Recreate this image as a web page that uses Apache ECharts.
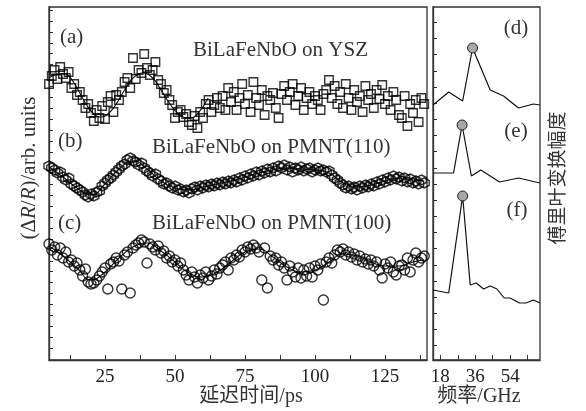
<!DOCTYPE html>
<html>
<head>
<meta charset="utf-8">
<script src="https://cdn.jsdelivr.net/npm/echarts@6/dist/echarts.min.js"></script>
<style>
  html, body { margin: 0; padding: 0; background: #fff; }
  #main { width: 586px; height: 411px; }
</style>
</head>
<body>
<div id="main"></div>
<script>
// 延迟时间 (ps)
var delayPs = [5,6,7,8,9,10,11,12,13,14,15,16,17,18,19,20,21,22,23,24,
    25,26,27,28,29,30,31,32,33,34,35,36,37,38,39,40,41,42,43,44,
    45,46,47,48,49,50,51,52,53,54,55,56,57,58,59,60,61,62,63,64,
    65,66,67,68,69,70,71,72,73,74,75,76,77,78,79,80,81,82,83,84,
    85,86,87,88,89,90,91,92,93,94,95,96,97,98,99,100,101,102,103,104,
    105,106,107,108,109,110,111,112,113,114,115,116,117,118,119,120,121,122,123,124,
    125,126,127,128,129,130,131,132,133,134,135,136,137,138,139];

// (a) BiLaFeNbO on YSZ
var yszData = [27.6,28.4,29.0,28.1,29.3,28.6,28.2,28.8,27.2,27.6,
    26.5,26.8,26.0,25.2,25.6,24.7,23.9,25.0,24.2,25.4,
    24.1,25.8,26.4,24.8,26.5,26.0,26.8,27.8,28.2,27.2,
    30.2,28.1,29.0,28.7,30.6,29.2,28.5,29.0,29.8,28.0,
    27.6,26.7,27.0,26.0,25.5,24.2,24.8,25.0,24.3,24.6,
    23.8,23.5,24.4,23.2,24.8,24.2,25.6,26.0,24.8,25.5,
    26.2,25.2,26.4,25.0,27.2,25.8,26.8,25.0,26.2,27.6,
    25.6,26.5,24.8,27.8,26.2,25.5,27.0,24.5,26.4,26.0,
    26.7,25.2,24.2,26.6,27.4,26.0,26.8,27.6,25.5,26.4,
    27.2,25.0,26.2,26.8,25.6,26.4,26.0,25.0,26.6,27.0,
    28.0,26.2,27.4,25.6,26.8,25.2,27.6,26.2,25.0,27.0,
    25.8,26.4,24.8,27.4,26.0,26.6,25.2,27.0,26.1,27.5,
    25.6,26.4,25.0,26.8,26.0,24.5,24.2,26.4,23.4,25.6,
    24.7,26.0,23.8,26.2,25.6];
var yszFitT = [5,7,9.6,12,15,18,21,23.2,26,29,32,35,38.6,42,45,48,51,55,58,61.8];
var yszFit = [28.2,28.5,28.65,28.4,27.2,25.7,24.6,24.3,24.6,25.6,27.0,28.2,28.7,28.2,27.0,25.7,24.7,24.2,24.6,26.2];

// (b) BiLaFeNbO on PMNT(110)
var pmnt110Data = [19.4,19.2,19.0,18.7,18.8,18.3,18.0,18.2,17.6,17.4,
    17.2,17.0,16.8,16.5,16.3,16.6,16.4,16.8,16.9,17.4,
    17.7,18.0,18.2,18.5,18.8,19.1,19.4,19.6,20.0,20.2,
    19.9,19.8,19.5,19.7,19.2,18.9,18.7,18.4,18.6,18.1,
    17.9,17.6,17.7,17.4,17.2,17.4,17.0,17.1,16.8,17.0,
    16.7,17.1,17.3,17.0,17.4,17.2,17.5,17.3,17.6,17.4,
    17.7,17.5,17.8,17.6,17.9,17.7,18.0,17.8,18.2,18.0,
    18.4,18.2,18.6,18.4,18.8,18.5,18.9,18.7,19.1,18.8,
    19.2,18.9,19.4,19.2,19.5,19.0,19.3,18.8,19.2,19.0,
    19.3,18.9,19.1,19.2,18.8,19.0,19.2,18.9,19.0,18.8,
    18.9,18.5,18.2,18.0,17.7,17.5,17.2,17.4,17.1,17.3,
    17.0,17.4,17.2,17.5,17.3,17.6,17.4,17.8,17.6,18.0,
    17.8,18.2,18.0,18.4,18.1,18.3,17.9,18.2,17.8,18.1,
    17.7,17.9,17.6,18.0,17.7];

// (c) BiLaFeNbO on PMNT(100)
var pmnt100Data = [11.6,11.0,11.3,10.5,11.2,10.2,10.8,9.8,10.0,9.4,
    9.7,9.0,8.4,9.1,7.8,7.6,7.7,8.0,8.4,8.8,
    9.2,7.1,9.6,9.8,10.2,9.9,7.1,10.5,10.8,6.7,
    11.2,11.5,11.7,12.0,11.8,9.7,11.6,11.3,11.0,11.4,
    10.7,10.9,10.2,10.4,9.8,10.0,9.4,9.7,9.0,8.5,
    8.0,8.8,8.3,7.7,8.5,8.2,8.8,8.0,8.4,9.0,
    8.6,9.2,9.5,9.8,9.0,10.2,10.0,10.5,10.3,11.0,
    10.8,11.3,11.1,11.5,11.2,10.8,8.0,11.2,7.2,10.4,
    10.0,10.2,9.5,9.8,9.2,8.0,9.4,8.8,8.3,9.2,
    8.2,9.0,8.4,9.2,8.3,9.4,9.0,9.6,6.0,9.8,
    10.2,9.7,10.5,11.0,10.8,11.1,10.5,10.8,10.3,10.6,
    10.0,10.4,9.8,10.1,9.6,10.0,9.4,9.8,9.0,8.2,
    9.6,9.2,9.8,8.8,8.5,9.4,9.5,9.0,10.2,8.8,
    10.0,10.7,9.8,10.2,10.4];

// (b)(c) 拟合曲线
var fitT = [5,10,15,20,25,30,35,40,45,50,55,60,65,70,75,80,85,90,95,100,105,110,115,120,125,130,135,139];
var pmnt110Fit = [19.3,18.3,17.2,16.5,17.6,19.1,19.9,19.1,17.9,17.2,17.0,17.3,17.6,17.9,18.3,18.7,19.0,19.2,19.1,19.0,18.7,17.7,17.3,17.5,17.9,18.2,18.0,17.9];
var pmnt100Fit = [11.4,10.4,9.2,8.0,8.8,10.2,11.3,11.7,10.9,9.8,8.7,8.3,8.8,9.8,10.8,11.1,10.3,9.3,8.8,9.0,9.8,10.6,10.4,9.8,9.4,9.4,9.8,10.0];

// 傅里叶变换 (GHz)
var freqD = [14.2,22.3,29.5,34.6,43.7,50.6,58.3,66.0,69.4];
var ampD = [25.5,26.8,25.9,31.2,27.0,26.4,25.2,25.6,25.5];
var freqE = [14.2,24.8,29.2,34.0,38.9,48.5,58.3,69.4];
var ampE = [18.7,18.7,23.5,18.4,19.0,17.8,18.2,17.7];
var freqF = [14.2,22.3,29.5,33.4,36.5,40.3,43.7,47.2,50.9,54.0,58.8,62.2,66.0,69.4];
var ampF = [7.0,6.7,16.4,7.5,7.7,7.1,7.4,7.1,6.2,6.2,5.7,5.7,6.0,5.7];
var peakIdx = [3, 2, 2];

var timeTicks = [12.5,25,37.5,50,62.5,75,87.5,100,112.5,125,137.5];
var timeLabels = [25,50,75,100,125];
var freqTicks = [18,27,36,45,54,63];
var freqLabels = [18,36,54];

function pairs(xs, ys) {
    return xs.map(function (x, i) { return [x, ys[i]]; });
}

var serif = '"Liberation Serif", "Noto Sans CJK SC", serif';
var ink = '#333';

var leftTicks = [];
for (var v = 1.2; v < 35.3; v += 1.09) leftTicks.push(+v.toFixed(2));
var rightTicks = [];
for (var w = 1.43; w < 35.3; w += 1.617) rightTicks.push(+w.toFixed(2));

var hexagon = 'path://M0,-10 L8.66,-5 L8.66,5 L0,10 L-8.66,5 L-8.66,-5 Z';

// 空心符号
var markerStyle = { color: 'rgba(255,255,255,0)', borderColor: '#000', borderWidth: 1.4 };
var fitStyle = { color: '#111', width: 1.1 };

function axisBase(idx, min, max) {
    return {
        gridIndex: idx, type: 'value', min: min, max: max,
        splitLine: { show: false },
        axisLine: { show: true, onZero: false, lineStyle: { color: ink, width: 1.3 } }
    };
}

var myChart = echarts.init(document.getElementById('main'));

var option = {
    animation: false,
    backgroundColor: '#fff',
    grid: [
        { left: 49, top: 7, width: 378, height: 353, show: true, borderColor: ink, borderWidth: 1.3 },
        { left: 433, top: 7, width: 107, height: 353, show: true, borderColor: ink, borderWidth: 1.3 }
    ],
    xAxis: [
        Object.assign(axisBase(0, 5, 140), {
            axisTick: { inside: true, length: 5, customValues: timeTicks, lineStyle: { color: ink } },
            axisLabel: { customValues: timeLabels, color: '#222', fontFamily: serif, fontSize: 19, margin: 8 }
        }),
        Object.assign(axisBase(1, 14.2, 69.4), {
            axisTick: { inside: true, length: 5, customValues: freqTicks, lineStyle: { color: ink } },
            axisLabel: { customValues: freqLabels, color: '#222', fontFamily: serif, fontSize: 19, margin: 8 }
        })
    ],
    yAxis: [
        Object.assign(axisBase(0, 0, 35.3), {
            axisTick: { inside: true, length: 4, customValues: leftTicks, lineStyle: { color: ink } },
            axisLabel: { show: false }
        }),
        Object.assign(axisBase(1, 0, 35.3), {
            axisTick: { inside: true, length: 4, customValues: rightTicks, lineStyle: { color: ink } },
            axisLabel: { show: false }
        })
    ],
    series: [
        {
            type: 'scatter', xAxisIndex: 0, yAxisIndex: 0,
            symbol: 'rect', symbolSize: 8.5, itemStyle: markerStyle,
            data: pairs(delayPs, yszData)
        },
        {
            type: 'scatter', xAxisIndex: 0, yAxisIndex: 0,
            symbol: hexagon, symbolSize: 10, itemStyle: markerStyle,
            data: pairs(delayPs, pmnt110Data)
        },
        {
            type: 'scatter', xAxisIndex: 0, yAxisIndex: 0,
            symbol: 'circle', symbolSize: 10, itemStyle: markerStyle,
            data: pairs(delayPs, pmnt100Data)
        },
        {
            type: 'line', xAxisIndex: 0, yAxisIndex: 0, smooth: true, showSymbol: false, z: 1,
            lineStyle: fitStyle, data: pairs(yszFitT, yszFit)
        },
        {
            type: 'line', xAxisIndex: 0, yAxisIndex: 0, smooth: true, showSymbol: false, z: 1,
            lineStyle: fitStyle, data: pairs(fitT, pmnt110Fit)
        },
        {
            type: 'line', xAxisIndex: 0, yAxisIndex: 0, smooth: true, showSymbol: false, z: 1,
            lineStyle: fitStyle, data: pairs(fitT, pmnt100Fit)
        }
    ].concat([[freqD, ampD], [freqE, ampE], [freqF, ampF]].map(function (s, k) {
        return {
            type: 'line', xAxisIndex: 1, yAxisIndex: 1,
            showSymbol: false, lineStyle: { color: '#111', width: 1.2 },
            data: pairs(s[0], s[1]),
            markPoint: {
                symbol: 'circle', symbolSize: 10,
                itemStyle: { color: '#a8a8a8', borderColor: '#222', borderWidth: 1 },
                label: { show: false },
                data: [{ coord: [s[0][peakIdx[k]], s[1][peakIdx[k]]] }]
            }
        };
    })),
    graphic: [
        { type: 'text', x: 60, y: 37, style: { text: '(a)', font: '21px ' + serif, fill: ink, verticalAlign: 'middle' } },
        { type: 'text', x: 193, y: 50, style: { text: 'BiLaFeNbO on YSZ', font: '21px ' + serif, fill: ink, verticalAlign: 'middle' } },
        { type: 'text', x: 58, y: 141, style: { text: '(b)', font: '21px ' + serif, fill: ink, verticalAlign: 'middle' } },
        { type: 'text', x: 152, y: 147, style: { text: 'BiLaFeNbO on PMNT(110)', font: '21px ' + serif, fill: ink, verticalAlign: 'middle' } },
        { type: 'text', x: 58, y: 223, style: { text: '(c)', font: '21px ' + serif, fill: ink, verticalAlign: 'middle' } },
        { type: 'text', x: 152, y: 223, style: { text: 'BiLaFeNbO on PMNT(100)', font: '21px ' + serif, fill: ink, verticalAlign: 'middle' } },
        { type: 'text', x: 516, y: 28, style: { text: '(d)', font: '21px ' + serif, fill: ink, align: 'center', verticalAlign: 'middle' } },
        { type: 'text', x: 516, y: 131, style: { text: '(e)', font: '21px ' + serif, fill: ink, align: 'center', verticalAlign: 'middle' } },
        { type: 'text', x: 517, y: 210, style: { text: '(f)', font: '21px ' + serif, fill: ink, align: 'center', verticalAlign: 'middle' } },
        { type: 'text', x: 251, y: 397, style: { text: '延迟时间/ps', font: '20px ' + serif, fill: ink, align: 'center', verticalAlign: 'middle' } },
        { type: 'text', x: 479, y: 397, style: { text: '频率/GHz', font: '20px ' + serif, fill: ink, align: 'center', verticalAlign: 'middle' } },
        {
            type: 'text', x: 29, y: 168, rotation: Math.PI / 2,
            style: {
                text: '{n|(Δ}{i|R}{n|/}{i|R}{n|)/arb. units}', fill: ink, align: 'center', verticalAlign: 'middle',
                rich: {
                    n: { fontFamily: serif, fontSize: 21, color: ink },
                    i: { fontFamily: serif, fontSize: 21, fontStyle: 'italic', color: ink }
                }
            }
        },
        { type: 'text', x: 557, y: 178, rotation: Math.PI / 2, style: { text: '傅里叶变换幅度', font: '19px "Noto Sans CJK SC"', fill: ink, align: 'center', verticalAlign: 'middle' } }
    ]
};

myChart.setOption(option);
</script>
</body>
</html>
